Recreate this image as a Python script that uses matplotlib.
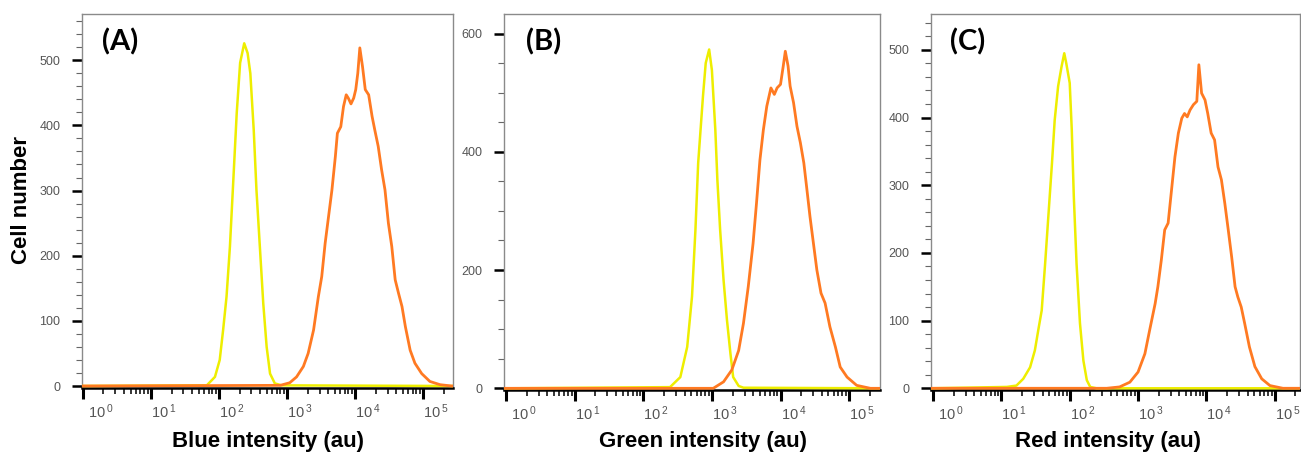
import numpy as np
import matplotlib
matplotlib.use("Agg")
import matplotlib.pyplot as plt
from matplotlib.ticker import FixedLocator, LogLocator, MultipleLocator, NullFormatter
import matplotlib.transforms as mtransforms

plt.rcParams['font.family'] = ['Liberation Sans', 'DejaVu Sans']
plt.rcParams['mathtext.default'] = 'regular'

# ---------------- data (log10 intensity, cell counts) ----------------
panel_labels = ["(A)", "(B)", "(C)"]
x_titles = ["Blue intensity (au)", "Green intensity (au)", "Red intensity (au)"]
y_title = "Cell number"
decades = [0, 1, 2, 3, 4, 5]

blue_ctrl_log = [1.82, 1.94, 2.01, 2.06, 2.11, 2.16, 2.21, 2.26, 2.31, 2.37, 2.42, 2.46,
                 2.51, 2.55, 2.60, 2.65, 2.70, 2.75, 2.82, 2.92]
blue_ctrl_cnt = [1, 14, 40, 86, 137, 214, 316, 419, 496, 526, 511, 480,
                 393, 301, 214, 127, 60, 19, 4, 1]
blue_cell_log = [2.90, 3.04, 3.14, 3.24, 3.31, 3.39, 3.46, 3.51, 3.56, 3.61, 3.66, 3.71,
                 3.74, 3.79, 3.83, 3.87, 3.90, 3.94, 3.98, 4.01, 4.04, 4.07, 4.11, 4.15,
                 4.20, 4.25, 4.29, 4.34, 4.39, 4.44, 4.49, 4.54, 4.59, 4.64, 4.69, 4.74,
                 4.81, 4.88, 4.98, 5.10, 5.25, 5.42]
blue_cell_cnt = [1, 5, 14, 30, 50, 86, 137, 168, 219, 260, 301, 352,
                 388, 398, 429, 447, 442, 433, 442, 455, 480, 519, 490, 455,
                 447, 414, 393, 368, 332, 301, 250, 214, 163, 142, 122, 91,
                 55, 35, 19, 7, 2, 0]

green_ctrl_log = [2.39, 2.54, 2.64, 2.71, 2.76, 2.80, 2.87, 2.91, 2.96, 3.00, 3.05, 3.08,
                  3.12, 3.17, 3.22, 3.27, 3.31, 3.39, 3.46]
green_ctrl_cnt = [2, 19, 70, 155, 268, 381, 494, 550, 573, 538, 437, 352,
                  268, 183, 115, 59, 19, 4, 1]
green_cell_log = [3.02, 3.17, 3.29, 3.39, 3.46, 3.53, 3.60, 3.65, 3.70, 3.75, 3.80, 3.86,
                  3.91, 3.95, 4.00, 4.04, 4.07, 4.11, 4.14, 4.19, 4.24, 4.29, 4.34, 4.38,
                  4.43, 4.48, 4.53, 4.59, 4.65, 4.72, 4.80, 4.87, 4.97, 5.11, 5.31]
green_cell_cnt = [0, 11, 31, 64, 110, 172, 245, 313, 386, 437, 477, 508,
                  497, 508, 514, 545, 570, 545, 511, 483, 443, 415, 381, 341,
                  290, 245, 200, 161, 144, 104, 70, 36, 19, 5, 0]

red_ctrl_log = [1.08, 1.22, 1.32, 1.42, 1.49, 1.54, 1.59, 1.64, 1.69, 1.74, 1.78, 1.83,
                1.88, 1.92, 1.95, 2.00, 2.03, 2.06, 2.10, 2.15, 2.20, 2.25, 2.30, 2.39]
red_ctrl_cnt = [2, 4, 14, 31, 56, 86, 115, 184, 258, 332, 396, 446,
                475, 495, 480, 451, 382, 283, 184, 96, 41, 12, 2, 0]
red_cell_log = [2.54, 2.73, 2.88, 3.00, 3.10, 3.17, 3.25, 3.29, 3.34, 3.39, 3.44, 3.49,
                3.54, 3.59, 3.64, 3.68, 3.72, 3.76, 3.81, 3.86, 3.89, 3.93, 3.98, 4.02,
                4.07, 4.12, 4.17, 4.22, 4.27, 4.32, 4.37, 4.42, 4.46, 4.51, 4.56, 4.63,
                4.71, 4.81, 4.93, 5.12, 5.36]
red_cell_cnt = [0, 2, 9, 24, 51, 86, 125, 150, 189, 234, 244, 293,
                342, 377, 399, 406, 401, 411, 419, 424, 478, 436, 426, 406,
                377, 367, 327, 308, 273, 234, 194, 150, 135, 120, 96, 61,
                32, 14, 4, 0, 0]

series = [
    (blue_ctrl_log, blue_ctrl_cnt, blue_cell_log, blue_cell_cnt),
    (green_ctrl_log, green_ctrl_cnt, green_cell_log, green_cell_cnt),
    (red_ctrl_log, red_ctrl_cnt, red_cell_log, red_cell_cnt),
]

# ---------------- layout ----------------
W, H = 1301, 455
fig = plt.figure(figsize=(W / 100, H / 100), dpi=100)

def px_rect(l, r, t, b):
    return [l / W, 1 - b / H, (r - l) / W, (b - t) / H]

axes_px = [(82, 453, 14, 387.5), (504, 880, 14, 389.5), (931, 1300, 14, 389.5)]
xlims = [(-0.015, 5.44), (-0.03, 5.45), (-0.03, 5.37)]
ylims = [(-2.3, 571), (-2.0, 633), (-1.8, 553)]
ymajor = [100, 200, 100]
yminor = [20, 50, 20]
label_x_px = [102, 526, 950]
xtitle_x_px = [268, 703, 1108]

yellow = '#EEEE00'
orange = '#FF7A22'
grey = '#555555'

for i, ax_rect in enumerate(axes_px):
    ax = fig.add_axes(px_rect(*ax_rect))
    cl, cc, ol, oc = series[i]
    x0, x1 = xlims[i]
    # full-range baselines at zero
    yl = np.concatenate([[x0], cl, [x1]])
    yc = np.concatenate([[0], cc, [0]])
    olg = np.concatenate([[x0], ol, [x1]])
    occ = np.concatenate([[0], oc, [0]])
    ax.plot(10 ** yl, yc, color=yellow, lw=1.8, zorder=3, solid_joinstyle='round')
    ax.plot(10 ** olg, occ, color=orange, lw=2.0, zorder=4, solid_joinstyle='round')

    ax.set_xscale('log')
    ax.set_xlim(10 ** x0, 10 ** x1)
    ax.set_ylim(*ylims[i])

    ax.xaxis.set_major_locator(FixedLocator([10.0 ** d for d in decades]))
    ax.set_xticklabels([r'$10^{\,%d}$' % d for d in decades])
    ax.xaxis.set_minor_locator(LogLocator(base=10, subs=np.arange(2, 10), numticks=20))
    ax.xaxis.set_minor_formatter(NullFormatter())
    ax.yaxis.set_major_locator(MultipleLocator(ymajor[i]))
    ax.yaxis.set_minor_locator(MultipleLocator(yminor[i]))

    ax.tick_params(axis='x', which='major', length=8, width=2.2, color='black',
                   pad=3, labelsize=10.5, labelcolor=grey)
    ax.tick_params(axis='x', which='minor', length=4, width=1.1, color='black')
    ax.tick_params(axis='y', which='major', length=7.5, width=1.8, color='black',
                   pad=8, labelsize=9, labelcolor=grey)
    ax.tick_params(axis='y', which='minor', length=4, width=0.8, color='#666666')

    for lab in ax.get_xticklabels():
        lab.set_horizontalalignment('left')
    first = ax.get_xticklabels()[0]
    first.set_transform(first.get_transform() +
                        mtransforms.ScaledTranslation(5 / 100, 0, fig.dpi_scale_trans))

    for side in ['left', 'top', 'right']:
        ax.spines[side].set_color('#8a8a8a')
        ax.spines[side].set_linewidth(1.0)
    ax.spines['bottom'].set_color('black')
    ax.spines['bottom'].set_linewidth(1.8)

    fig.text(label_x_px[i] / W, 1 - 28 / H, panel_labels[i], family=['Lato', 'DejaVu Sans'],
             fontsize=21, fontweight='bold', ha='left', va='top')
    fig.text(xtitle_x_px[i] / W, 1 - 441 / H, x_titles[i], fontsize=16, fontweight='bold',
             ha='center', va='center')

fig.text(22 / W, 1 - 200 / H, y_title, fontsize=16, fontweight='bold', rotation=90,
         ha='center', va='center')

fig.savefig('out.png', dpi=100)
